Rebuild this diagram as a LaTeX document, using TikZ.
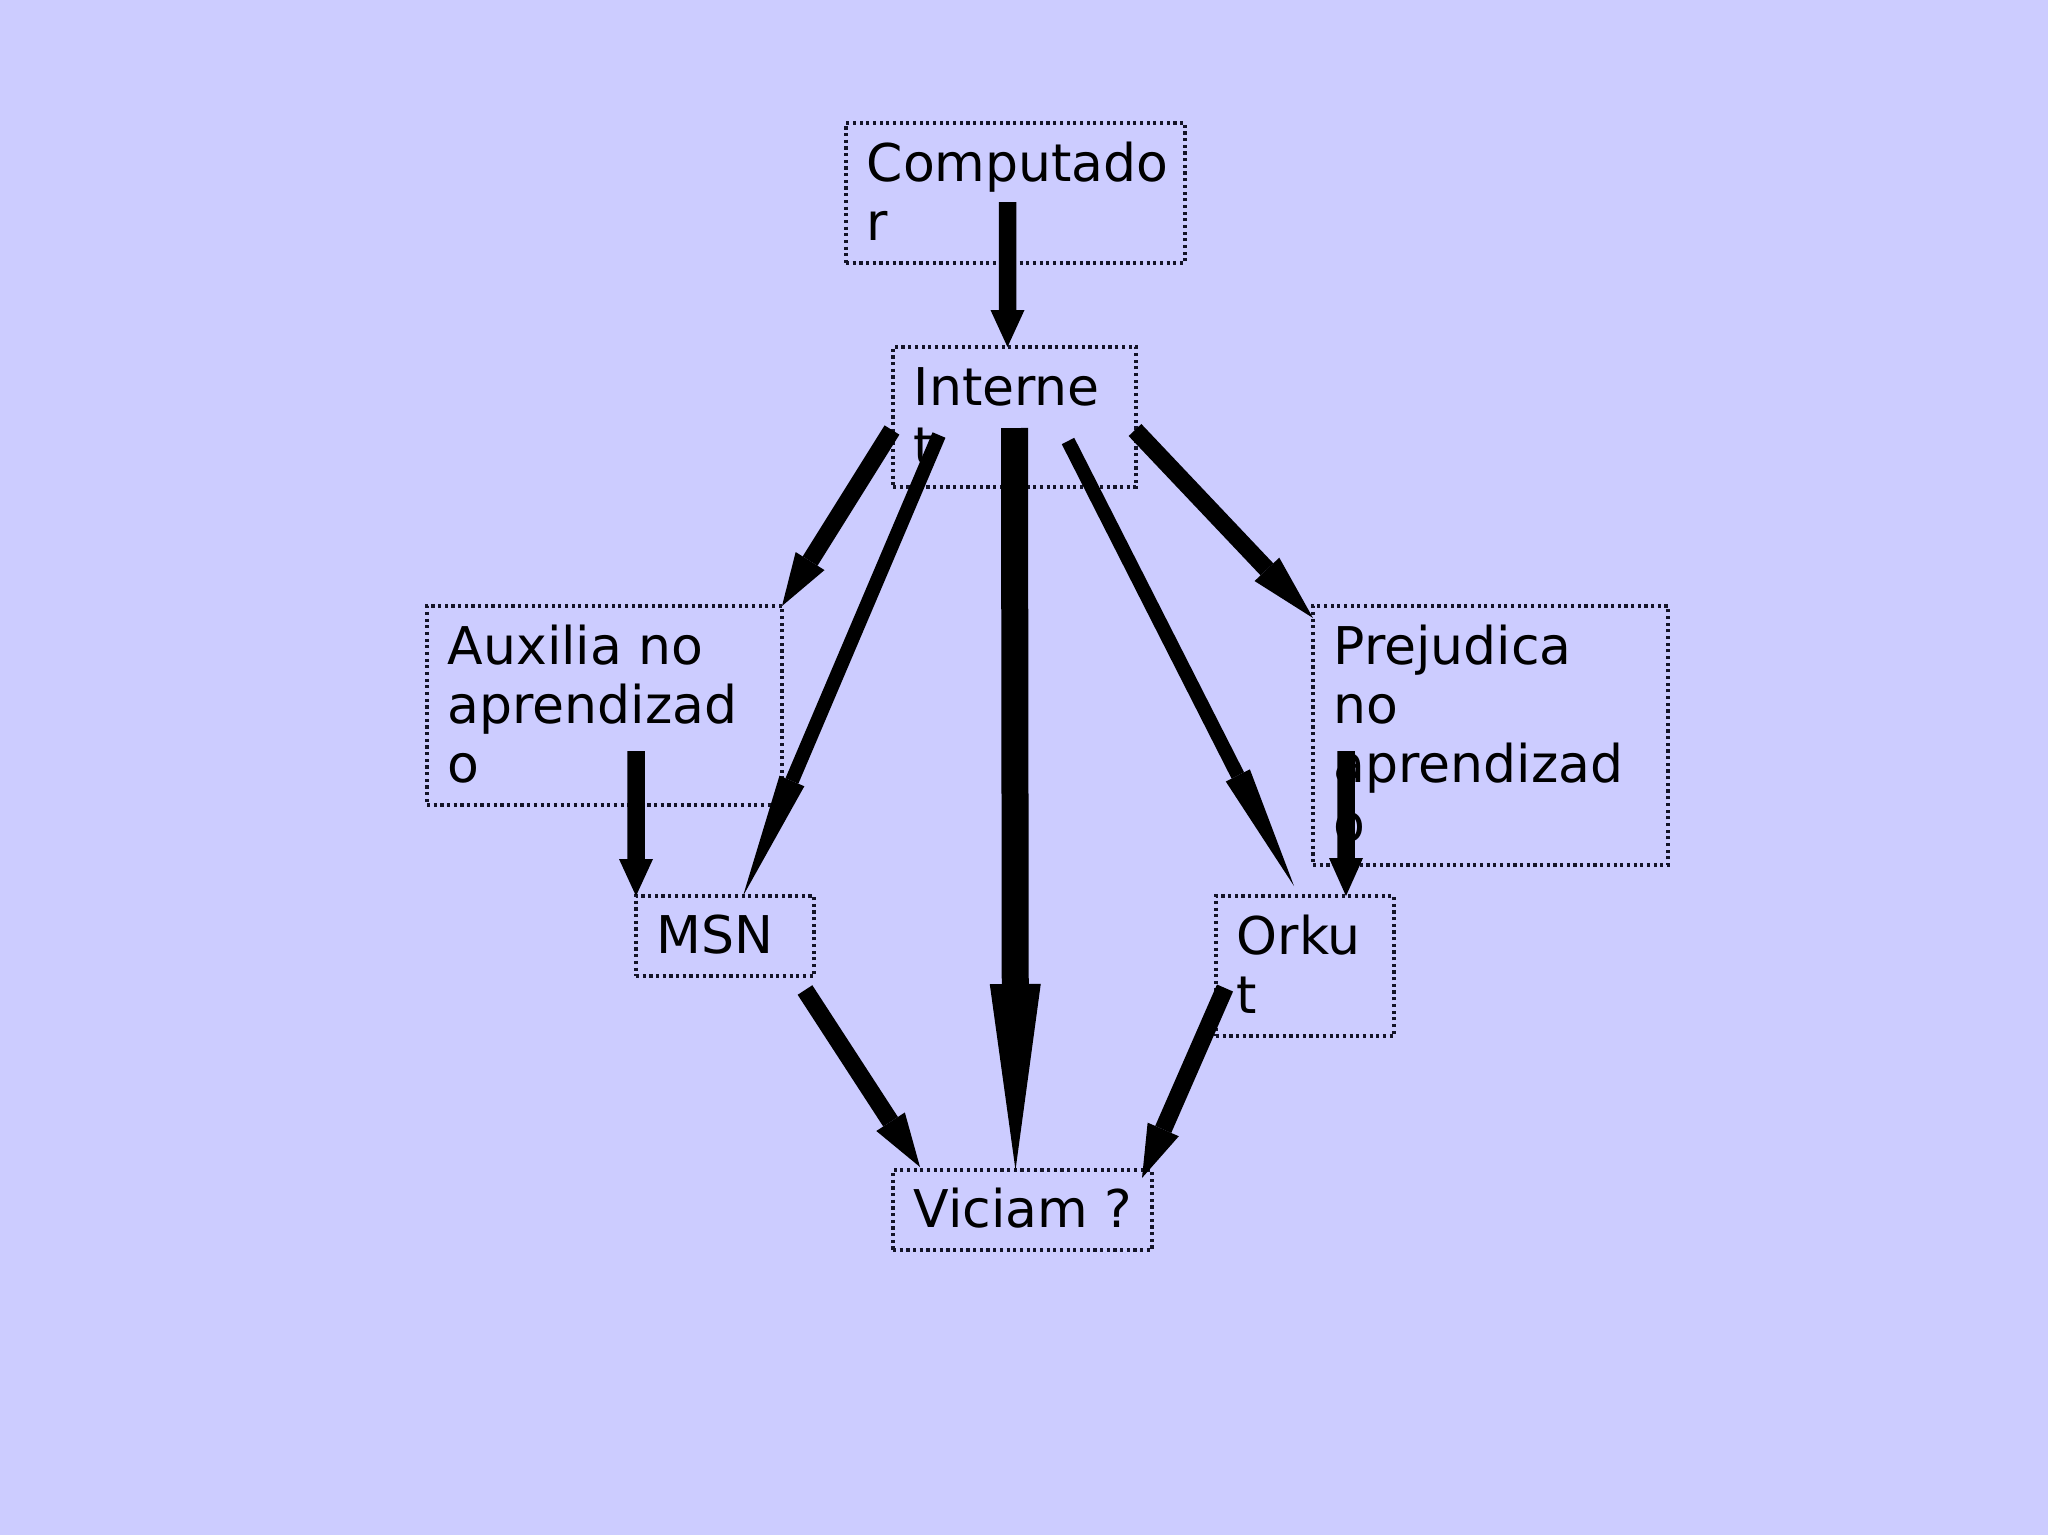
\documentclass[tikz,border=0pt]{standalone}
\usepackage{fontspec}
\setmainfont{DejaVu Sans}
\usepackage{tikz}
\usetikzlibrary{arrows.meta,positioning,calc}
\definecolor{VBack}{HTML}{CCCCFF}
\definecolor{VInk}{HTML}{000000}
\definecolor{VEdge}{HTML}{141428}
\tikzset{
  flow/.style={-{Triangle[length=#1,width=3.4mm,line width=0pt]},VInk,line width=1.75mm},
  flow/.default=3.7mm,
  flowthin/.style={-{Triangle[length=#1,width=2.7mm,line width=0pt]},VInk,line width=1.4mm},
  flowthin/.default=12.5mm,
  flowbig/.style={-{Triangle[length=18.6mm,width=5.1mm,line width=0pt]},VInk,line width=2.7mm},
  card/.style={draw=VEdge,line width=0.9pt,densely dotted,inner sep=0pt,outer sep=0pt},
  % anchored at the baseline of the last line
  cardtext/.style={anchor=base west,inner sep=0pt,align=left,text=VInk,
                   font=\fontsize{14.8}{16.8}\selectfont},
}
\begin{document}
\begin{tikzpicture}
    \fill[VBack] (0,0) rectangle (20.48,-15.35);

    % boxes
    \node[card,minimum width=3.39cm,minimum height=1.40cm] (comp) at (10.155,-1.93) {};
    \node[card,minimum width=2.43cm,minimum height=1.40cm] (inet) at (10.145,-4.17) {};
    \node[card,minimum width=3.55cm,minimum height=1.99cm] (aux) at (6.045,-7.055) {};
    \node[card,minimum width=3.55cm,minimum height=2.59cm] (prej) at (14.905,-7.355) {};
    \node[card,minimum width=1.78cm,minimum height=0.80cm] (msn) at (7.25,-9.36) {};
    \node[card,minimum width=1.78cm,minimum height=1.40cm] (orkut) at (13.05,-9.66) {};
    \node[card,minimum width=2.59cm,minimum height=0.80cm] (vic) at (10.225,-12.10) {};

    % texts
    \node[cardtext] (comp-t) at ($(comp.north west)+(0.2,-1.176)$) {Computado\\r};
    \node[cardtext] (inet-t) at ($(inet.north west)+(0.2,-1.176)$) {Interne\\t};
    \node[cardtext] (aux-t) at ($(aux.north west)+(0.2,-1.766)$) {Auxilia no\\aprendizad\\o};
    \node[cardtext] (prej-t) at ($(prej.north west)+(0.2,-2.357)$) {Prejudica\\no\\aprendizad\\o};
    \node[cardtext] (msn-t) at ($(msn.north west)+(0.2,-0.57)$) {MSN};
    \node[cardtext] (orkut-t) at ($(orkut.north west)+(0.2,-1.176)$) {Orku\\t};
    \node[cardtext] (vic-t) at ($(vic.north west)+(0.2,-0.57)$) {Viciam ?};

    % arrows
    \draw[flow] ($(comp.north west)+(1.615,-0.79)$) -- ($(inet.north)+(-0.07,0)$);
    \draw[flow=5.3mm] ($(inet.north west)+(-0.01,-0.83)$) -- (aux.north east);
    \draw[flowthin] ($(inet.north west)+(0.46,-0.88)$) -- ($(msn.north west)+(1.07,0)$);
    \draw[flowbig] ($(inet.north)+(0,-0.81)$) -- ($(vic.north)+(-0.07,0)$);
    \draw[flowthin=12.4mm] ($(inet.north west)+(1.75,-0.94)$) -- ($(orkut.north west)+(0.78,0.10)$);
    \draw[flow=6.7mm] ($(inet.north east)+(-0.01,-0.83)$) -- ($(prej.north west)+(0,-0.12)$);
    \draw[flow] ($(aux.south west)+(2.09,0.54)$) -- (msn.north west);
    \draw[flow=3.8mm] ($(prej.south west)+(0.33,1.14)$) -- ($(orkut.north)+(0.41,0)$);
    \draw[flow=5.4mm] ($(msn.south east)+(-0.09,-0.14)$) -- ($(vic.north west)+(0.27,0.03)$);
    \draw[flow=5.3mm] ($(orkut.south west)+(0.09,0.48)$) -- ($(vic.north east)+(-0.10,-0.08)$);
\end{tikzpicture}
\end{document}
